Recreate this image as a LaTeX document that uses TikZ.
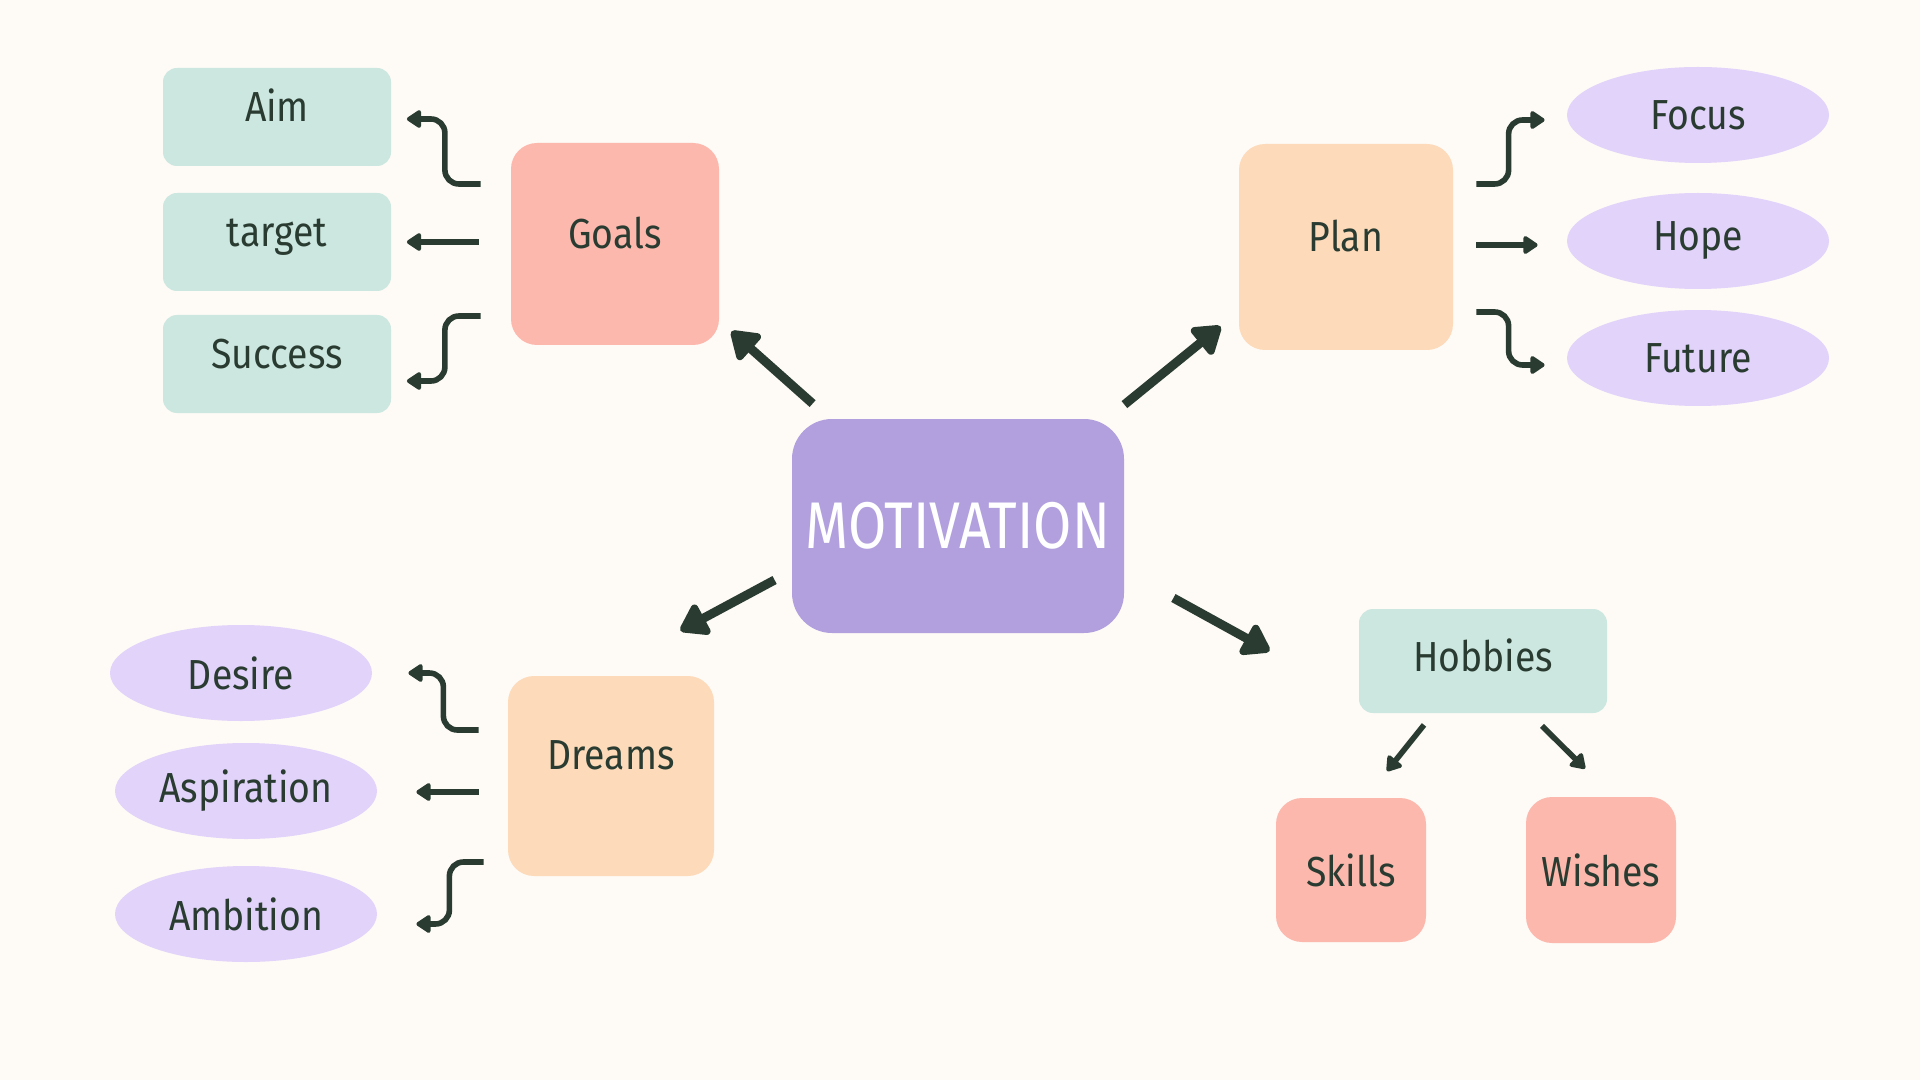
\documentclass[tikz,border=0pt]{standalone}
\usepackage{fontspec}
\setmainfont[FakeStretch=0.89]{Fira Sans}
\newfontfamily\titlefont[FakeStretch=0.84]{Fira Sans}
\usetikzlibrary{
    arrows.meta,
    positioning,
    shapes.geometric
}
\definecolor{bgcream}{HTML}{FEFAF6}
\definecolor{mint}{HTML}{CCE7E0}
\definecolor{salmon}{HTML}{FDB8AE}
\definecolor{peach}{HTML}{FDDBBA}
\definecolor{lilac}{HTML}{E1D3FA}
\definecolor{violet}{HTML}{B2A0DE}
\definecolor{ink}{HTML}{2A3C32}

\begin{document}
\begin{tikzpicture}[x=0.5pt,y=-0.5pt,
    itemtext/.style={text=ink,inner sep=0pt,font=\fontsize{21}{24}\selectfont},
    mintbox/.style={itemtext,fill=mint,rounded corners=7pt,
        minimum width=114pt,minimum height=49pt,text height=15pt,text depth=10pt},
    sqbox/.style={itemtext,rounded corners=13pt},
    cloud/.style={itemtext,ellipse,fill=lilac,minimum width=131pt,minimum height=48pt},
    link/.style={draw=ink,line width=2.8pt,-{Triangle[width=10pt,length=8pt,round]}},
    elbow/.style={link,rounded corners=7pt},
    bigarrow/.style={draw=ink,line width=4.5pt,-{Triangle[width=19pt,length=15pt,round]}}
]

\path[use as bounding box,fill=bgcream] (0,0) rectangle (1920,1080);

% Centre
\node[fill=violet,text=white,rounded corners=20pt,inner sep=0pt,
      minimum width=166pt,minimum height=107pt,
      font=\titlefont\fontsize{33}{36}\selectfont] (motivation) at (958,526) {MOTIVATION};

% Goals
\node[sqbox,fill=salmon,minimum width=104pt,minimum height=101pt,
      text height=15pt,text depth=10pt] (goals) at (615,244) {Goals};
\node[mintbox] (aim) at (277,117) {Aim};
\node[mintbox] (target) at (277,242) {target};
\node[mintbox] (success) at (277,364) {Success};

% Plan
\node[sqbox,fill=peach,minimum width=107pt,minimum height=103pt,
      text height=15pt,text depth=10pt] (plan) at (1346,247) {Plan};
\node[cloud] (focus) at (1698,115) {Focus};
\node[cloud] (hope) at (1698,241) {Hope};
\node[cloud] (future) at (1698,358) {Future};

% Dreams
\node[sqbox,fill=peach,minimum width=103pt,minimum height=100pt,
      text height=15pt,text depth=22pt] (dreams) at (611,776) {Dreams};
\node[cloud] (desire) at (241,673) {Desire};
\node[cloud] (aspiration) at (246,791) {Aspiration};
\node[cloud] (ambition) at (246,914) {Ambition};

% Hobbies
\node[mintbox,minimum width=124pt,minimum height=52pt,text depth=5pt] (hobbies) at (1483,661) {Hobbies};
\node[sqbox,fill=salmon,minimum width=75pt,minimum height=72pt] (skills) at (1351,870) {Skills};
\node[sqbox,fill=salmon,minimum width=75pt,minimum height=73pt] (wishes) at (1601,870) {Wishes};

% Main arrows
\draw[bigarrow] ([shift={(21,-15)}]motivation.north west) -- ([shift={(12,-14)}]goals.south east);
\draw[bigarrow] ([shift={(0,-14)}]motivation.north east) -- ([shift={(-18,-24)}]plan.south west);
\draw[bigarrow] ([shift={(-17,54)}]motivation.west) -- ([shift={(-34,-45)}]dreams.north east);
\draw[bigarrow] ([shift={(49,72)}]motivation.east) -- ([shift={(-89,-10)}]hobbies.west);

% Goals links
\draw[elbow] ([shift={(-30,-60)}]goals.west) -| ([shift={(53.5,2)}]aim.east) -- ([shift={(15.5,2)}]aim.east);
\draw[link] ([shift={(-32,-2)}]goals.west) -- ([shift={(15.5,0)}]target.east);
\draw[elbow] ([shift={(-30,72)}]goals.west) -| ([shift={(53.5,17)}]success.east) -- ([shift={(15.5,17)}]success.east);

% Plan links
\draw[elbow] ([shift={(23,-63)}]plan.east) -| ([shift={(-58,5)}]focus.west) -- ([shift={(-22,5)}]focus.west);
\draw[link] ([shift={(23,-2)}]plan.east) -- ([shift={(-29,4)}]hope.west);
\draw[elbow] ([shift={(23,65)}]plan.east) -| ([shift={(-58,7)}]future.west) -- ([shift={(-22,7)}]future.west);

% Dreams links
\draw[elbow] ([shift={(-29,-46)}]dreams.west) -| ([shift={(71,0)}]desire.east) -- ([shift={(36,0)}]desire.east);
\draw[link] ([shift={(-29,16)}]dreams.west) -- ([shift={(39,1)}]aspiration.east);
\draw[elbow] ([shift={(-24,86)}]dreams.west) -| ([shift={(72,10)}]ambition.east) -- ([shift={(39,10)}]ambition.east);

% Hobbies links
\draw[link] ([shift={(-59,11.5)}]hobbies.south) -- ([shift={(36,-26.5)}]skills.north);
\draw[link] ([shift={(59,12.5)}]hobbies.south) -- ([shift={(-16,-28)}]wishes.north);

\end{tikzpicture}
\end{document}
